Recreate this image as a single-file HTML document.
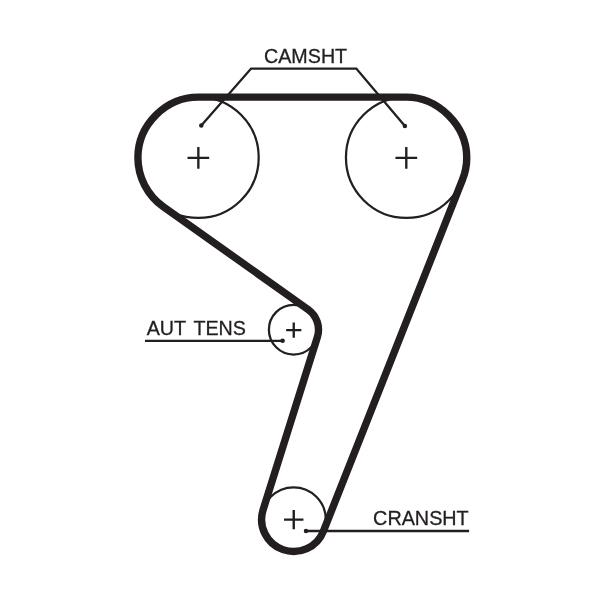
<!DOCTYPE html>
<html>
<head>
<meta charset="utf-8">
<title>Timing belt diagram</title>
<style>
html,body{margin:0;padding:0;background:#fff;}
body{width:600px;height:589px;overflow:hidden;position:relative;font-family:"Liberation Sans",sans-serif;}
svg{position:absolute;left:0;top:0;display:block;will-change:transform;}
text{font-family:"Liberation Sans",sans-serif;fill:#231f20;}
</style>
</head>
<body>
<svg width="600" height="589" viewBox="0 0 600 589">
<defs>
<filter id="noop" x="0" y="0" width="600" height="589" filterUnits="userSpaceOnUse"><feOffset dx="0" dy="0"/></filter>
</defs>
<rect width="600" height="589" fill="#fff"/>

<!-- pulleys -->
<g fill="none" stroke="#231f20" stroke-width="2.25">
<circle cx="198.3" cy="157.5" r="60.4"/>
<circle cx="406.35" cy="157.5" r="60.4"/>
<circle cx="293.7" cy="329.7" r="24.8"/>
<circle cx="293.6" cy="519.5" r="32.2"/>
</g>

<!-- belt -->
<path d="M 198.30 97.10 L 406.35 97.10 C 438.24 97.10 466.75 125.61 466.75 157.50 A 60.40 60.40 0 0 1 462.51 179.73 L 323.35 531.28 A 32.00 32.00 0 0 1 263.07 509.91 L 317.36 337.13 A 24.80 24.80 0 0 0 308.05 309.48 L 163.34 206.75 A 60.40 60.40 0 0 1 137.90 157.50 C 137.90 124.88 165.68 97.10 198.30 97.10 Z" fill="none" stroke="#231f20" stroke-width="7.4" stroke-linejoin="round"/>

<!-- centre marks -->
<path d="M 187.50 157.80 H 209.20 M 198.35 146.95 V 168.65" stroke="#231f20" stroke-width="2.35" fill="none"/>
<path d="M 395.45 157.80 H 417.15 M 406.30 146.95 V 168.65" stroke="#231f20" stroke-width="2.35" fill="none"/>
<path d="M 286.15 330.10 H 301.35 M 293.75 322.50 V 337.70" stroke="#231f20" stroke-width="2.35" fill="none"/>
<path d="M 284.05 519.60 H 303.45 M 293.75 509.90 V 529.30" stroke="#231f20" stroke-width="2.40" fill="none"/>

<!-- leader lines -->
<g fill="none" stroke="#231f20" stroke-width="2.35">
<path d="M201.3 125.4 L251.1 68.6 H356.3 L404.9 126"/>
<path d="M145 340.9 H282.6"/>
<path d="M306.1 530.95 H469.1"/>
</g>
<g fill="#231f20">
<circle cx="201.3" cy="125.4" r="2.25"/>
<circle cx="404.9" cy="126" r="2.25"/>
<circle cx="282.6" cy="340.8" r="2.3"/>
<circle cx="306.0" cy="531.05" r="2.25"/>
</g>

<!-- labels -->
<g filter="url(#noop)" stroke="#231f20" stroke-width="0.3">
<text x="264" y="63.3" font-size="19.7">CAMSHT</text>
<text x="146.7" y="335.25" font-size="19.7" word-spacing="2.6">AUT TENS</text>
<text x="373.1" y="525.05" font-size="19.8">CRANSHT</text>
</g>
</svg>
</body>
</html>
